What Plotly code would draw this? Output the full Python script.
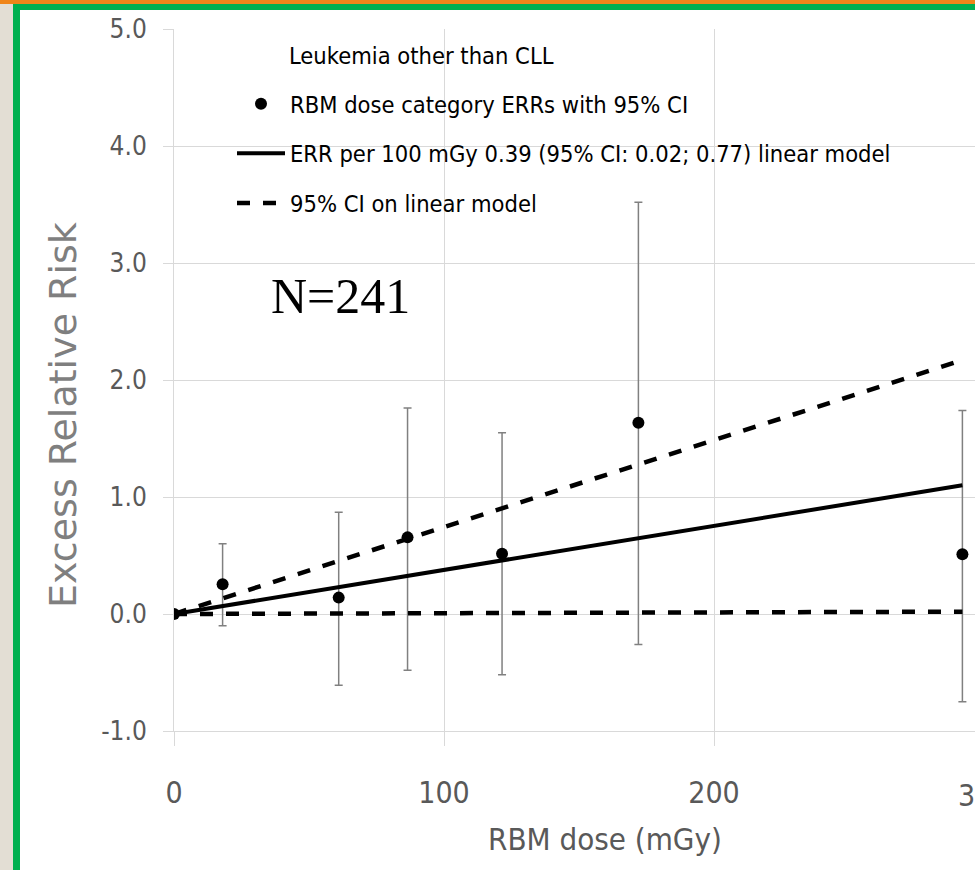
import plotly.graph_objects as go

# ---- data ----
dose = [0, 18, 61, 86.5, 121.5, 172, 292]
err = [0.0, 0.255, 0.14, 0.655, 0.515, 1.635, 0.51]
ci_upper = [0.0, 0.60, 0.87, 1.76, 1.55, 3.52, 1.74]
ci_lower = [0.0, -0.10, -0.61, -0.48, -0.52, -0.26, -0.75]

line_dose = [0, 292]
fit_err = [0.0, 1.10]
fit_hi = [0.0, 2.17]
fit_lo = [0.0, 0.02]

y_ticks = [-1, 0, 1, 2, 3, 4, 5]
y_ticktext = ["-1.0", "0.0", "1.0", "2.0", "3.0", "4.0", "5.0"]
x_ticks = [0, 100, 200]

legend_title = "Leukemia other than CLL"
name_points = "RBM dose category ERRs with 95% CI"
name_fit = "ERR per 100 mGy 0.39 (95% CI: 0.02; 0.77) linear model"
name_ci = "95% CI on linear model"

# ---- layout geometry (pixels) ----
W, H = 975, 870
L, R, T, B = 174, 0, 29, 139
PW, PH = W - L - R, H - T - B


def px(x):
    return (x - L) / PW


def py(y):
    return (H - B - y) / PH


NARROW = "DejaVu Sans Condensed, Liberation Sans Narrow, DejaVu Sans, sans-serif"

fig = go.Figure()

fig.add_trace(go.Scatter(
    x=dose, y=err, mode="markers", name=name_points,
    marker=dict(color="black", size=12, symbol="circle"),
    error_y=dict(
        type="data", symmetric=False,
        array=[u - e for u, e in zip(ci_upper, err)],
        arrayminus=[e - l for e, l in zip(err, ci_lower)],
        color="#808080", thickness=1.5, width=4,
    ),
    legendgroup="a",
))
fig.add_trace(go.Scatter(
    x=line_dose, y=fit_err, mode="lines", name=name_fit,
    line=dict(color="black", width=4),
    legendgroup="b",
))
fig.add_trace(go.Scatter(
    x=line_dose, y=fit_hi, mode="lines", name=name_ci,
    line=dict(color="black", width=4.5, dash="13px,13px"),
    legendgroup="c",
))
fig.add_trace(go.Scatter(
    x=line_dose, y=fit_lo, mode="lines", name=name_ci, showlegend=False,
    line=dict(color="black", width=4.5, dash="13px,13px"),
    legendgroup="c",
))

grid = "#d9d9d9"
fig.update_layout(
    width=W, height=H,
    margin=dict(l=L, r=R, t=T, b=B, pad=0),
    paper_bgcolor="white", plot_bgcolor="white",
    showlegend=True,
    legend=dict(
        x=px(232), y=py(82), xanchor="left", yanchor="top",
        bgcolor="rgba(0,0,0,0)", borderwidth=0,
        font=dict(family=NARROW, size=23.5, color="black"),
        itemwidth=48, tracegroupgap=16,
        traceorder="grouped",
    ),
    xaxis=dict(
        range=[0, PW / 2.7], tickvals=x_ticks,
        showgrid=True, gridcolor=grid, gridwidth=1,
        zeroline=False, showline=True, linecolor=grid, linewidth=1,
        ticks="outside", ticklen=14, tickcolor=grid, tickwidth=1,
        tickfont=dict(family=NARROW, size=30, color="#595959"),
        ticklabelstandoff=21,
    ),
    yaxis=dict(
        range=[-1, 5], tickvals=y_ticks, ticktext=y_ticktext,
        showgrid=True, gridcolor=grid, gridwidth=1,
        zeroline=False, showline=True, linecolor=grid, linewidth=1,
        ticks="outside", ticklen=10, tickcolor=grid, tickwidth=1,
        tickfont=dict(family=NARROW, size=26, color="#595959"),
        ticklabelstandoff=11,
    ),
    annotations=[
        dict(text=legend_title, xref="paper", yref="paper", x=px(287), y=py(56),
             xanchor="left", yanchor="middle", showarrow=False,
             font=dict(family=NARROW, size=23.5, color="black")),
        dict(text="N=241", xref="paper", yref="paper", x=px(340), y=py(296),
             xanchor="center", yanchor="middle", showarrow=False,
             font=dict(family="Liberation Serif, DejaVu Serif, serif", size=50, color="black")),
        dict(text="Excess Relative Risk", xref="paper", yref="paper", x=px(63), y=py(415),
             xanchor="center", yanchor="middle", showarrow=False, textangle=-90,
             font=dict(family="DejaVu Sans, Verdana, sans-serif", size=38, color="#7f7f7f")),
        dict(text="RBM dose (mGy)", xref="paper", yref="paper", x=px(605), y=py(839),
             xanchor="center", yanchor="middle", showarrow=False,
             font=dict(family=NARROW, size=31, color="#595959")),
        dict(text="300", xref="paper", yref="paper", x=px(300 * 2.7 + L), y=py(795),
             xanchor="center", yanchor="middle", showarrow=False,
             font=dict(family=NARROW, size=30, color="#595959")),
    ],
    shapes=[
        dict(type="rect", xref="paper", yref="paper", x0=px(0), x1=px(13), y0=py(0), y1=py(H),
             fillcolor="#e3ded4", line=dict(width=0), layer="above"),
        dict(type="rect", xref="paper", yref="paper", x0=px(0), x1=px(W), y0=py(0), y1=py(4),
             fillcolor="#f08519", line=dict(width=0), layer="above"),
        dict(type="rect", xref="paper", yref="paper", x0=px(13), x1=px(W), y0=py(4), y1=py(10),
             fillcolor="#00b050", line=dict(width=0), layer="above"),
        dict(type="rect", xref="paper", yref="paper", x0=px(13), x1=px(20), y0=py(4), y1=py(H),
             fillcolor="#00b050", line=dict(width=0), layer="above"),
    ],
)

fig.write_html(
    "out.html",
    config={"displayModeBar": False},
    post_script="document.body.style.margin='0px';",
)
